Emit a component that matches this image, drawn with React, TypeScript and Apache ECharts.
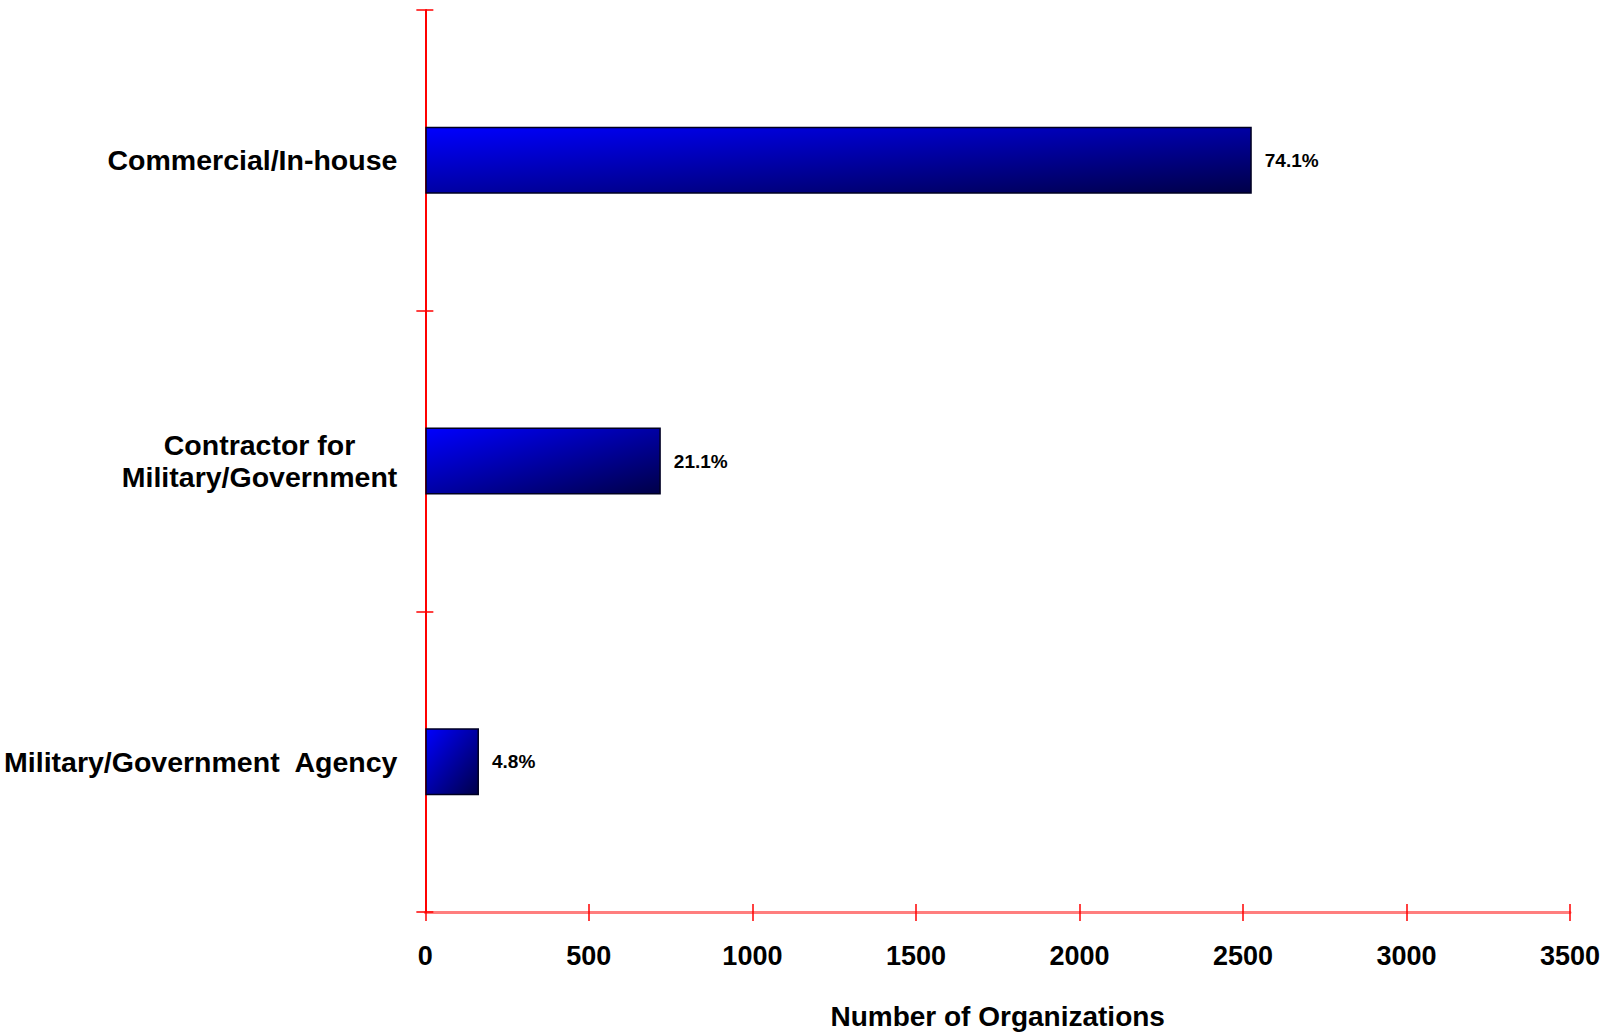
import React, { useEffect, useRef } from "react";
import * as echarts from "echarts";

const categories = [
  "Commercial/In-house",
  "Contractor for\nMilitary/Government",
  "Military/Government  Agency",
];
const counts = [2527, 720, 164];
const percentLabels = ["74.1%", "21.1%", "4.8%"];
const xTicks = { min: 0, max: 3500, interval: 500 };
const xAxisTitle = "Number of Organizations";

export default function App() {
  const ref = useRef<HTMLDivElement>(null);
  useEffect(() => {
    if (!ref.current) return;
    const chart = echarts.init(ref.current, null, { renderer: "svg" });
    const font = "'Liberation Sans', Arial, sans-serif";
    const barGradient = new echarts.graphic.LinearGradient(0, 0, 1, 1, [
      { offset: 0, color: "#0000ff" },
      { offset: 1, color: "#000048" },
    ]);
    chart.setOption({
      animation: false,
      backgroundColor: "#ffffff",
      grid: { left: 425, right: 49, top: 10, bottom: 121, containLabel: false },
      xAxis: [
        {
          type: "value",
          min: xTicks.min,
          max: xTicks.max,
          interval: xTicks.interval,
          position: "bottom",
          splitLine: { show: false },
          axisLine: { show: true, lineStyle: { color: "rgba(255,40,40,0.6)", width: 3 } },
          axisTick: { show: true, inside: false, length: 9, lineStyle: { color: "#ff0000", width: 1.5 } },
          axisLabel: {
            margin: 30,
            color: "#000000",
            fontFamily: font,
            fontWeight: "bold",
            fontSize: 27,
            formatter: (v: number) => String(v),
          },
          name: xAxisTitle,
          nameLocation: "middle",
          nameGap: 90,
          nameTextStyle: {
            color: "#000000",
            fontFamily: font,
            fontWeight: "bold",
            fontSize: 28,
          },
        },
        {
          type: "value",
          min: xTicks.min,
          max: xTicks.max,
          interval: xTicks.interval,
          position: "bottom",
          splitLine: { show: false },
          axisLine: { show: false },
          axisTick: { show: true, inside: true, length: 8, lineStyle: { color: "#ff0000", width: 1.5 } },
          axisLabel: { show: false },
        },
      ],
      yAxis: [
        {
          type: "category",
          data: categories,
          inverse: true,
          position: "left",
          axisLine: { show: true, lineStyle: { color: "#ff0000", width: 2 } },
          axisTick: { show: true, inside: false, length: 9, lineStyle: { color: "#ff0000", width: 1.5 } },
          axisLabel: {
            margin: 28,
            color: "#000000",
            fontFamily: font,
            fontWeight: "bold",
            fontSize: 28.5,
            lineHeight: 32,
            formatter: (v: string) => {
              const parts = v.split("\n");
              if (parts.length === 1) return `{r|${parts[0]}}`;
              return parts.map((p) => `{c|${p}}`).join("\n");
            },
            rich: {
              r: {
                fontFamily: font,
                fontWeight: "bold",
                fontSize: 28.5,
                color: "#000000",
                lineHeight: 32,
              },
              c: {
                fontFamily: font,
                fontWeight: "bold",
                fontSize: 28.5,
                color: "#000000",
                lineHeight: 32,
                align: "center",
              },
            },
          },
        },
        {
          type: "category",
          data: categories,
          inverse: true,
          position: "left",
          axisLine: { show: false },
          axisTick: { show: true, inside: true, length: 8, lineStyle: { color: "#ff0000", width: 1.5 } },
          axisLabel: { show: false },
        },
      ],
      series: [
        {
          type: "bar",
          xAxisIndex: 0,
          yAxisIndex: 0,
          data: counts,
          barWidth: 67,
          itemStyle: {
            color: barGradient,
            borderColor: "#000022",
            borderWidth: 1.5,
          },
          label: {
            show: true,
            position: "right",
            distance: 13,
            color: "#000000",
            fontFamily: "'Liberation Sans Narrow', 'Liberation Sans', Arial, sans-serif",
            fontWeight: "bold",
            fontSize: 19,
            formatter: (p: any) => percentLabels[p.dataIndex],
          },
        },
      ],
    });
    return () => chart.dispose();
  }, []);
  return (
    <div
      ref={ref}
      style={{ position: "fixed", left: 0, top: 0, width: 1619, height: 1035 }}
    />
  );
}
